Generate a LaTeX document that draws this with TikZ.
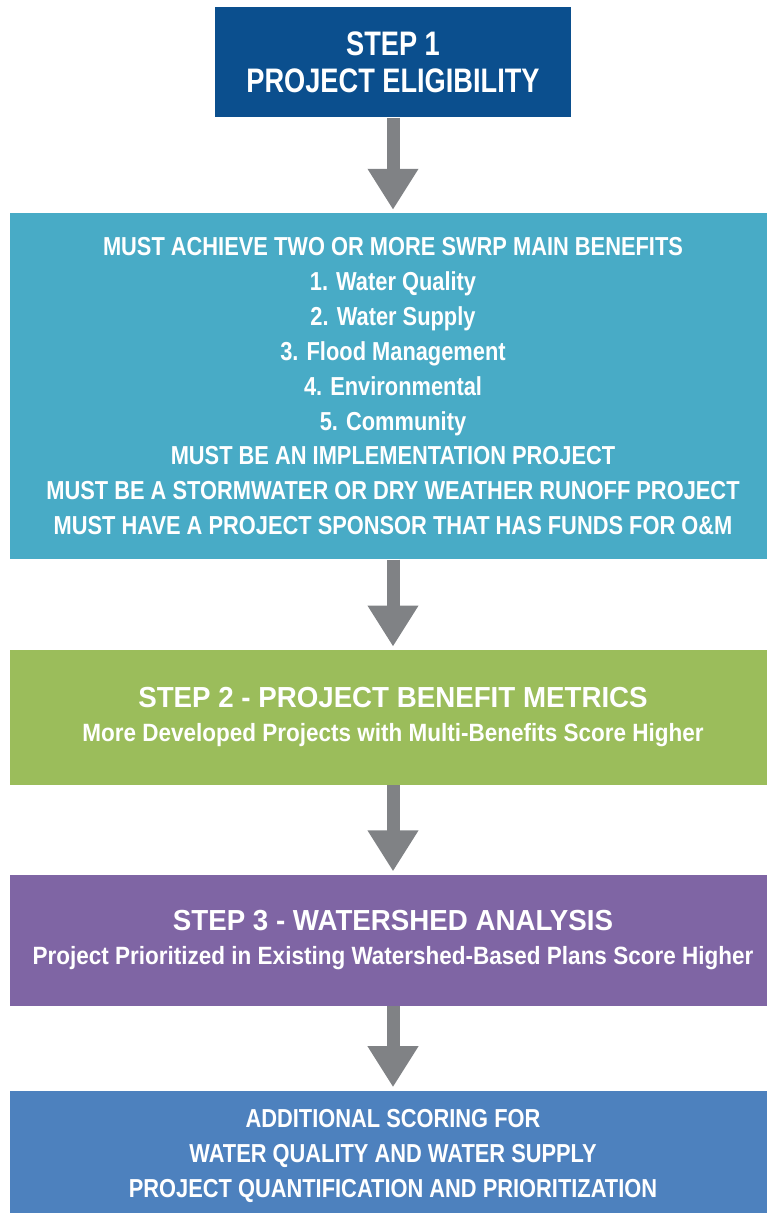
\documentclass[tikz,border=0pt]{standalone}
\usepackage{fontspec}
\setmainfont{Liberation Sans}[FakeStretch=0.84]
\newfontfamily\headfont{Liberation Sans}[FakeStretch=0.8]
\newfontfamily\titlefont{Liberation Sans}[FakeStretch=0.955]
\newfontfamily\subfont{Liberation Sans}[FakeStretch=0.9]
\usetikzlibrary{arrows.meta,positioning}

\definecolor{stepblue}{HTML}{0B4F8E}
\definecolor{eligcyan}{HTML}{48ABC6}
\definecolor{metricgreen}{HTML}{9BBD5B}
\definecolor{shedpurple}{HTML}{7F65A4}
\definecolor{scoreblue}{HTML}{4D81BE}
\definecolor{arrowgray}{HTML}{808285}

\begin{document}
\begin{tikzpicture}[
    box/.style={rectangle, inner sep=0pt, align=center, text=white,
                minimum width=383pt},
    stepone/.style={box, fill=stepblue, minimum width=178pt, minimum height=55pt,
                    font=\headfont\fontsize{17}{18.5}\selectfont\bfseries},
    criteria/.style={box, fill=eligcyan, minimum height=173pt,
                     font=\fontsize{13}{17.45}\selectfont\bfseries},
    metric/.style={box, minimum height=67.5pt,
                   font=\subfont\fontsize{12.5}{17}\selectfont\bfseries},
    flow/.style={-{Triangle[width=24pt,length=20.5pt]}, line width=6.5pt,
                 draw=arrowgray, shorten >=1.5pt},
  ]

  \useasboundingbox (0,0) rectangle (383pt,-606.5pt);

  \node[stepone, anchor=north] (step1) at (196.5pt,-3.5pt)
       {STEP 1\\PROJECT ELIGIBILITY};

  \node[criteria, below=47.5pt of step1] (elig)
       {MUST ACHIEVE TWO OR MORE SWRP MAIN BENEFITS\\
        1. Water Quality\\
        2. Water Supply\\
        3. Flood Management\\
        4. Environmental\\
        5. Community\\
        MUST BE AN IMPLEMENTATION PROJECT\\
        MUST BE A STORMWATER OR DRY WEATHER RUNOFF PROJECT\\
        MUST HAVE A PROJECT SPONSOR THAT HAS FUNDS FOR O\&M};

  \node[metric, fill=metricgreen, below=45pt of elig] (step2)
       {{\titlefont\fontsize{14.5}{17}\selectfont STEP 2 - PROJECT BENEFIT METRICS}\\
        More Developed Projects with Multi-Benefits Score Higher};

  \node[metric, fill=shedpurple, minimum height=65.5pt, below=44.5pt of step2] (step3)
       {{\titlefont\fontsize{14.5}{17}\selectfont STEP 3 - WATERSHED ANALYSIS}\\
        Project Prioritized in Existing Watershed-Based Plans Score Higher};

  \node[criteria, fill=scoreblue, minimum height=65pt, below=42pt of step3] (extra)
       {ADDITIONAL SCORING FOR\\
        WATER QUALITY AND WATER SUPPLY\\
        PROJECT QUANTIFICATION AND PRIORITIZATION};

  \draw[flow] (step1) -- (elig);
  \draw[flow] (elig) -- (step2);
  \draw[flow] (step2) -- (step3);
  \draw[flow] (step3) -- (extra);

\end{tikzpicture}
\end{document}
